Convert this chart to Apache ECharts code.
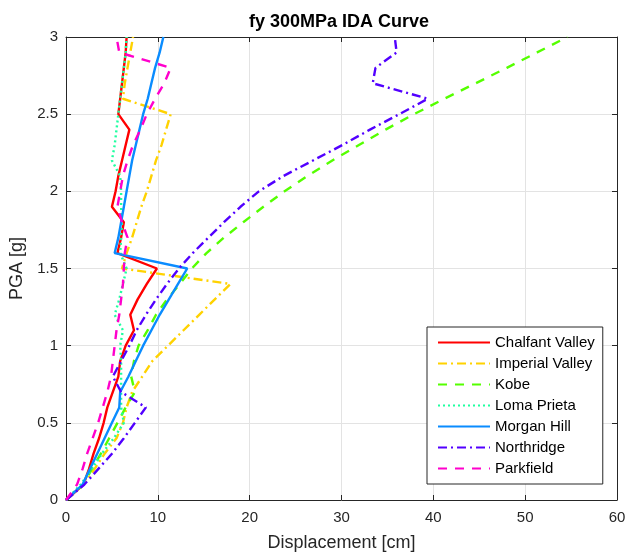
<!DOCTYPE html>
<html>
<head>
<meta charset="utf-8">
<script src="https://cdn.jsdelivr.net/npm/echarts@6/dist/echarts.min.js"></script>
<style>
html,body{margin:0;padding:0;background:#fff;}
#chart{width:630px;height:557px;}
</style>
</head>
<body>
<div id="chart"></div>
<script>
// PGA levels [g]
var pga = [0,0.1,0.2,0.3,0.4,0.5,0.6,0.7,0.8,0.9,1.0,1.1,1.2,1.3,1.4,1.5,1.6,1.7,1.8,1.9,2.0,2.1,2.2,2.3,2.4,2.5,2.6,2.7,2.8,2.9,3.0];
// Displacement [cm] per record
var chalfantValley = [0,1.9,2.5,3.0,3.6,4.1,4.5,5.1,5.7,5.9,6.5,7.4,7.0,7.8,8.8,9.9,5.6,6.0,6.3,5.0,5.4,5.7,6.1,6.5,6.9,5.7,5.9,6.1,6.3,6.5,6.6];
var imperialValley = [0,1.9,3.1,4.2,5.5,6.2,6.6,7.2,8.3,9.4,11.1,12.8,14.5,16.2,17.9,6.1,6.6,7.2,7.7,8.2,8.8,9.3,9.8,10.4,10.9,11.4,6.2,6.4,6.7,7.0,7.3];
var kobe = [0,1.9,2.8,3.8,4.7,5.6,6.5,7.5,7.1,7.4,7.9,8.9,9.8,11.0,12.4,13.7,15.3,17.2,19.3,21.5,23.8,26.3,29.0,31.9,34.8,37.9,41.2,44.6,48.0,51.3,54.6];
var lomaPrieta = [0,1.6,2.8,3.9,5.2,6.3,6.0,6.0,6.0,6.0,5.9,6.2,5.3,5.8,6.2,6.6,5.9,6.0,6.1,6.0,6.0,5.9,5.0,5.3,5.5,5.7,5.9,6.1,6.3,6.5,6.6];
var morganHill = [0,1.8,2.6,3.4,4.2,5.0,5.8,5.9,6.8,7.6,8.4,9.3,10.2,11.2,12.2,13.2,5.3,5.7,6.0,6.3,6.6,6.9,7.2,7.6,8.0,8.4,8.9,9.3,9.7,10.2,10.6];
var northridge = [0,2.0,3.5,5.0,6.3,7.5,8.7,6.0,5.1,6.0,6.9,7.7,8.7,9.8,11.0,12.3,13.8,15.5,17.2,19.0,21.0,23.7,26.9,30.1,33.1,36.3,39.4,33.4,33.7,36.0,35.8];
var parkfield = [0,1.2,1.8,2.3,2.9,3.5,4.0,4.5,4.9,5.1,5.3,5.5,5.8,6.0,6.2,6.3,6.4,6.7,6.1,5.6,5.9,6.2,6.7,7.3,8.1,8.8,9.7,10.7,11.4,5.8,5.5];

var seriesNames = ['Chalfant Valley','Imperial Valley','Kobe','Loma Prieta','Morgan Hill','Northridge','Parkfield'];
var xTicks = [0,10,20,30,40,50,60];
var yTicks = [0,0.5,1,1.5,2,2.5,3];

var seriesValues = [chalfantValley, imperialValley, kobe, lomaPrieta, morganHill, northridge, parkfield];
var colors = ['#ff0000','#ffd200','#55ff00','#1effa0','#0a8cff','#5200ff','#ff00cc'];
var dashes = ['solid',[9,4,2,4],[9,8],[2,3],'solid',[9,4,2,4],[9,8]];

var font = 'Liberation Sans, Arial, Helvetica, sans-serif';
var chart = echarts.init(document.getElementById('chart'));

var series = seriesNames.map(function(name, i){
  return {
    name: name,
    type: 'line',
    xAxisIndex: 0, yAxisIndex: 0,
    data: pga.map(function(p, k){ return [seriesValues[i][k], p]; }),
    symbol: 'none',
    showSymbol: false,
    smooth: false,
    clip: true,
    lineStyle: {color: colors[i], width: 2.4, type: dashes[i]},
    itemStyle: {color: colors[i], opacity: 0},
    z: 3 + i
  };
});

var axisCommon = {
  type: 'value',
  axisLine: {show: true, onZero: false, lineStyle: {color: '#262626', width: 1}},
  axisTick: {show: true, inside: true, length: 5, lineStyle: {color: '#262626'}},
};

var option = {
  backgroundColor: '#fff',
  animation: false,
  title: {
    text: 'fy 300MPa IDA Curve',
    left: 334, top: 8, textAlign: 'center',
    textStyle: {fontFamily: font, fontSize: 18, fontWeight: 'bold', color: '#000'}
  },
  grid: {left: 66, top: 37, width: 551, height: 463, containLabel: false},
  legend: {
    data: seriesNames,
    orient: 'vertical',
    left: 427, top: 327,
    itemWidth: 52, itemHeight: 15, itemGap: 6,
    padding: [8, 8, 8, 10],
    borderColor: '#262626', borderWidth: 1,
    backgroundColor: '#fff',
    itemStyle: {opacity: 0},
    textStyle: {fontFamily: font, fontSize: 15, color: '#000'},
    z: 20
  },
  xAxis: [
    Object.assign({}, axisCommon, {
      min: 0, max: 60, interval: 10, position: 'bottom',
      name: 'Displacement [cm]', nameLocation: 'middle', nameGap: 34,
      nameTextStyle: {fontFamily: font, fontSize: 18, color: '#262626'},
      axisLabel: {fontFamily: font, fontSize: 15, color: '#262626', margin: 10},
      splitLine: {show: true, lineStyle: {color: '#e3e3e3', width: 1}}
    }),
    Object.assign({}, axisCommon, {
      min: 0, max: 60, interval: 10, position: 'top',
      axisLabel: {show: false}, splitLine: {show: false}
    })
  ],
  yAxis: [
    Object.assign({}, axisCommon, {
      min: 0, max: 3, interval: 0.5, position: 'left',
      name: 'PGA [g]', nameLocation: 'middle', nameGap: 36,
      nameTextStyle: {fontFamily: font, fontSize: 18, color: '#262626'},
      axisLabel: {fontFamily: font, fontSize: 15, color: '#262626', margin: 8},
      splitLine: {show: true, lineStyle: {color: '#e3e3e3', width: 1}}
    }),
    Object.assign({}, axisCommon, {
      min: 0, max: 3, interval: 0.5, position: 'right',
      axisLabel: {show: false}, splitLine: {show: false}
    })
  ],
  series: series
};
chart.setOption(option);
</script>
</body>
</html>
